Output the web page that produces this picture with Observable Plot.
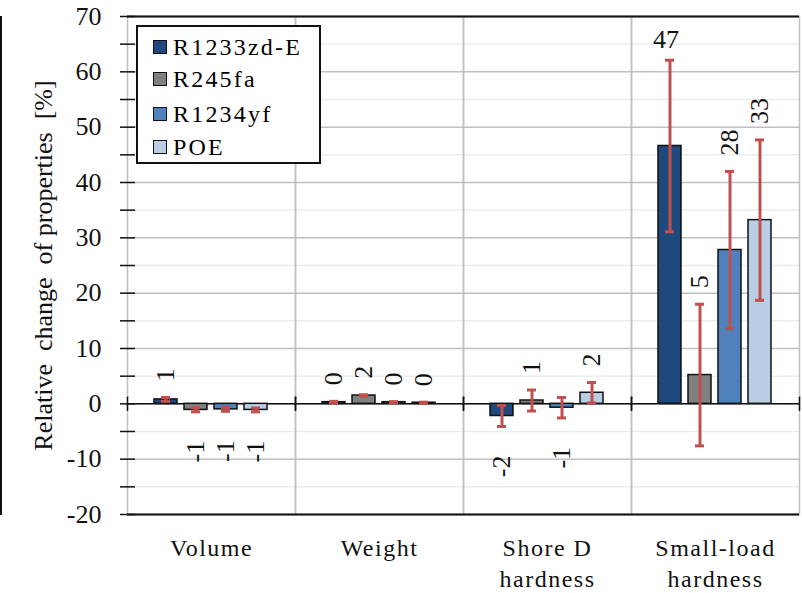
<!DOCTYPE html>
<html><head><meta charset="utf-8">
<script src="https://cdn.jsdelivr.net/npm/d3@7"></script>
<script src="https://cdn.jsdelivr.net/npm/@observablehq/plot@0.6"></script>
<style>
body{margin:0;background:#fff;}
#wrap{position:relative;width:802px;height:593px;font-family:"Liberation Serif","Times New Roman",serif;}
#wrap svg, #wrap svg text, #wrap svg tspan{font-family:"Liberation Serif","Times New Roman",serif !important;}
#wrap svg g[aria-label="fx-axis tick label"] text{letter-spacing:1.5px;}
#edge{position:absolute;left:0;top:16px;width:2px;height:499px;background:#111;}
#leg{position:absolute;left:136px;top:25px;width:181px;height:135px;border:2px solid #111;background:#fff;font-family:"Liberation Serif","Times New Roman",serif;}
#leg .row{position:absolute;left:15px;height:30px;display:flex;align-items:center;font-size:24px;letter-spacing:2.2px;color:#000;}
#leg .sw{width:12px;height:12px;border:1.5px solid #111;margin-right:6px;}
</style></head><body><div id="wrap"><div id="edge"></div></div>
<script>
const categories = ["Volume", "Weight", "Shore D hardness", "Small-load hardness"];
const series = ["R1233zd-E", "R245fa", "R1234yf", "POE"];
const colors = ["#1f497d", "#808080", "#4f81bd", "#b9cde5"];
const valR1233zdE = [0.8, 0.3, -2.2, 46.6];
const valR245fa = [-1.1, 1.5, 0.6, 5.2];
const valR1234yf = [-1.0, 0.3, -0.7, 27.8];
const valPOE = [-1.1, 0.2, 2.0, 33.2];
const errR1233zdE = [0.35, 0.15, 1.9, 15.5];
const errR245fa = [0.35, 0.15, 1.9, 12.8];
const errR1234yf = [0.35, 0.1, 1.85, 14.2];
const errPOE = [0.35, 0.1, 1.85, 14.5];
const yTicks = [-20, -10, 0, 10, 20, 30, 40, 50, 60, 70];
const yMinor = [-15, -5, 5, 15, 25, 35, 45, 55, 65];
const yLabel = "Relative  change  of properties  [%]";

const vals = [valR1233zdE, valR245fa, valR1234yf, valPOE];
const errs = [errR1233zdE, errR245fa, errR1234yf, errPOE];
const data = [];
categories.forEach((c, ci) => series.forEach((s, si) => data.push({cat: c, s, v: vals[si][ci], e: errs[si][ci]})));

const red = "#c0504d";
const serif = "'Liberation Serif', 'Times New Roman', serif";
const posData = data.filter(d => d.v >= 0 && d.v + d.e < 55);
const topData = data.filter(d => d.v + d.e >= 55);
const negData = data.filter(d => d.v < 0);
const stem = {draw(context, l) { context.moveTo(0, 0); context.lineTo(0, -l); }};

const chart = Plot.plot({
  width: 802, height: 593,
  marginLeft: 126, marginRight: 2, marginTop: 16, marginBottom: 79,
  style: {fontFamily: serif, fontSize: "26px", background: "white", color: "black"},
  fx: {domain: categories, padding: 0, label: null},
  x: {domain: series, paddingInner: 0.23, paddingOuter: 0.83, axis: null},
  y: {domain: [-20, 70]},
  color: {domain: series, range: colors},
  marks: [
    Plot.ruleY(yMinor, {stroke: "#ececec", strokeWidth: 1.5}),
    Plot.ruleY(yTicks, {stroke: "#c0c0c0", strokeWidth: 1.5}),
    Plot.frame({stroke: "#c0c0c0", strokeWidth: 1.5}),
    Plot.ruleY([70, -20], {stroke: "#111", strokeWidth: 2}),
    Plot.ruleY([0], {stroke: "#111", strokeWidth: 1.5}),
    Plot.vector([0], {y: d => d, frameAnchor: "left", length: 13, anchor: "middle", rotate: 0, shape: stem, stroke: "#111", strokeWidth: 1.5}),
    Plot.vector([0], {y: d => d, frameAnchor: "right", length: 13, anchor: "middle", rotate: 0, shape: stem, stroke: "#111", strokeWidth: 1.5}),
    Plot.axisY({ticks: yTicks, tickSize: 0, tickPadding: 26, fontSize: 26, tickFormat: d => String(d), label: null, line: true, stroke: "#111", fill: "#111"}),
    Plot.axisY({ticks: yTicks.concat(yMinor), tickSize: 15, dx: 8, tickFormat: () => "", label: null, strokeWidth: 1.5, stroke: "#111"}),
    Plot.axisY({anchor: "right", ticks: [], line: true, label: null, stroke: "#111", strokeWidth: 2}),
    Plot.text([yLabel], {fx: () => categories[0], frameAnchor: "left", textAnchor: "middle", rotate: -90, dx: -84, fontSize: 26, fill: "#111"}),
    Plot.axisFx({anchor: "bottom", tickSize: 0, tickPadding: 19, fontSize: 24, lineHeight: 1.3, label: null, fill: "#111",
      tickFormat: d => d.replace(" hardness", "\nhardness")}),
    Plot.barY(data, {fx: "cat", x: "s", y: "v", fill: "s", stroke: "#111", strokeWidth: 1.5}),
    Plot.ruleX(data, {fx: "cat", x: "s", y1: d => d.v - d.e, y2: d => d.v + d.e, stroke: red, strokeWidth: 3}),
    Plot.tickY(data, {fx: "cat", x: "s", y: d => d.v - d.e, stroke: red, strokeWidth: 3, insetLeft: 7, insetRight: 7}),
    Plot.tickY(data, {fx: "cat", x: "s", y: d => d.v + d.e, stroke: red, strokeWidth: 3, insetLeft: 7, insetRight: 7}),
    Plot.text(posData, {fx: "cat", x: "s", y: d => d.v + d.e, text: d => String(Math.round(d.v)), rotate: -90, textAnchor: "start", dy: -16, fontSize: 26, fill: "#111"}),
    Plot.text(negData, {fx: "cat", x: "s", y: d => d.v - d.e, text: d => String(Math.round(d.v)), rotate: -90, textAnchor: "end", dy: 29, fontSize: 26, fill: "#111"}),
    Plot.text(topData, {fx: "cat", x: "s", y: d => d.v + d.e, text: d => String(Math.round(d.v)), lineAnchor: "bottom", dy: -12, dx: -4, fontSize: 26, fill: "#111"})
  ]
});
const wrap = document.getElementById("wrap");
wrap.appendChild(chart);
chart.style.position = "absolute"; chart.style.left = "0"; chart.style.top = "0";
const edge = document.getElementById("edge"); wrap.appendChild(edge);

const leg = document.createElement("div");
leg.id = "leg";
const rowTops = [5, 37, 72, 105];
series.forEach((s, i) => {
  const row = document.createElement("div");
  row.className = "row";
  row.style.top = rowTops[i] + "px";
  const sw = document.createElement("div");
  sw.className = "sw";
  sw.style.background = colors[i];
  row.appendChild(sw);
  row.appendChild(document.createTextNode(s));
  leg.appendChild(row);
});
wrap.appendChild(leg);
</script>
</body></html>
